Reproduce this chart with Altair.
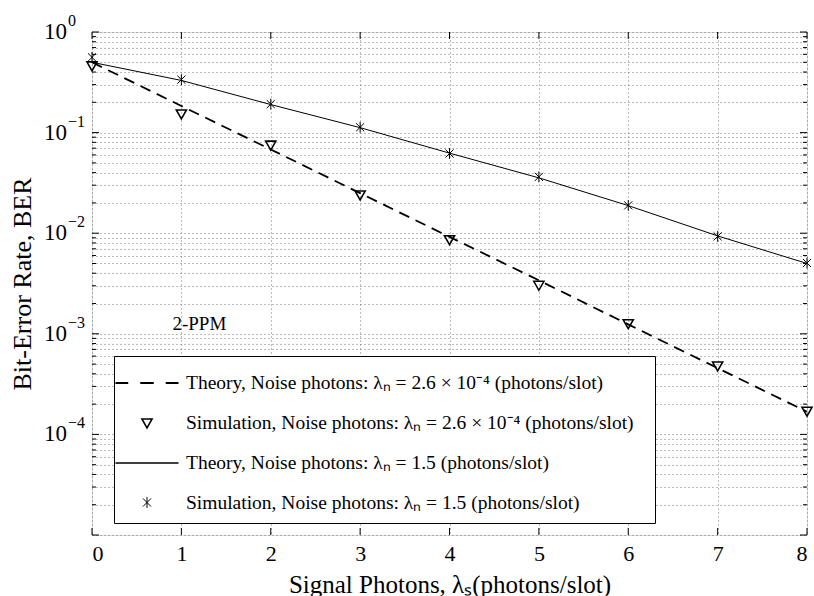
import altair as alt
import pandas as pd

# ---- data ----
signal = [0, 1, 2, 3, 4, 5, 6, 7, 8]
theory_low = [0.5, 0.184, 0.068, 0.025, 0.0092, 0.0034, 0.00124, 0.000456, 0.000168]
sim_low = [0.46, 0.153, 0.075, 0.024, 0.0086, 0.00303, 0.00126, 0.000478, 0.000170]
theory_high = [0.5, 0.33, 0.19, 0.112, 0.0625, 0.0355, 0.0188, 0.0094, 0.0050]
sim_high = [0.56, 0.336, 0.192, 0.113, 0.062, 0.0363, 0.0189, 0.0093, 0.00506]

labels = [
    "Theory, Noise photons:  λₙ = 2.6 × 10⁻⁴  (photons/slot)",
    "Simulation, Noise photons:  λₙ = 2.6 × 10⁻⁴  (photons/slot)",
    "Theory, Noise photons:  λₙ = 1.5 (photons/slot)",
    "Simulation, Noise photons:  λₙ = 1.5 (photons/slot)",
]

x_ticks = [0, 1, 2, 3, 4, 5, 6, 7, 8]
decades = [1, 0.1, 0.01, 0.001, 0.0001]
decade_exps = ["0", "−1", "−2", "−3", "−4"]
y_major = [1, 0.1, 0.01, 0.001, 0.0001, 0.00001]
y_minor = [m * 10.0 ** k for k in range(-5, 0) for m in range(2, 10)]

note_text = ["2-PPM"]
note_x = [0.9]
note_y = [1.25e-3]

# ---- styling ----
W, H = 715, 503
FONT = "Liberation Serif"
GRID = "#777777"

df_tl = pd.DataFrame({"x": signal, "ber": theory_low})
df_th = pd.DataFrame({"x": signal, "ber": theory_high})
df_sim = pd.DataFrame({
    "x": signal + signal,
    "ber": sim_low + sim_high,
    "series": [labels[1]] * len(signal) + [labels[3]] * len(signal),
})

xscale = alt.Scale(domain=[0, 8], nice=False, zero=False)
yscale = alt.Scale(type="log", domain=[1e-5, 1], nice=False)

x_axis = alt.Axis(
    values=x_ticks, grid=True, gridDash=[1, 3], gridColor=GRID, gridWidth=1,
    ticks=False, domain=False, labelFont=FONT, labelFontSize=22, labelColor="black",
    labelPadding=8, title="Signal Photons, λₛ(photons/slot)", titleFont=FONT,
    titleFontSize=25, titleFontWeight="normal", titleColor="black",
    titleY=49, titleBaseline="middle",
)
y_axis = alt.Axis(
    values=y_major + y_minor, grid=True, gridDash=[1, 3], gridColor=GRID, gridWidth=1,
    ticks=False, domain=False, labels=False, title="Bit-Error Rate, BER",
    titleFont=FONT, titleFontSize=26, titleFontWeight="normal", titleColor="black",
    titleX=-70, titleY=H / 2, titleAngle=-90, titleAlign="center", titleBaseline="middle",
)


def X(field):
    return alt.X(field, scale=xscale, axis=x_axis)


def Y(field):
    return alt.Y(field, scale=yscale, axis=y_axis)


line_low = alt.Chart(df_tl).mark_line(color="black", strokeWidth=1.8, strokeDash=[11, 7]).encode(
    x=X("x:Q"), y=Y("ber:Q"),
)
line_high = alt.Chart(df_th).mark_line(color="black", strokeWidth=1).encode(
    x=X("x:Q"), y=Y("ber:Q"),
)

dash_path = "M-2.1,0H-1.25M-0.45,0H0.45M1.25,0H2.1"
solid_path = "M-2.1,0H2.1"
tri_path = "M-0.34,-0.27L0.34,-0.27L0,0.33Z"
star_path = "M0,-0.36V0.36M-0.27,-0.27L0.27,0.27M-0.27,0.27L0.27,-0.27"

points = alt.Chart(df_sim).mark_point(filled=False, color="black", size=900, opacity=1).encode(
    x=X("x:Q"), y=Y("ber:Q"),
    shape=alt.Shape(
        "series:N",
        scale=alt.Scale(domain=labels, range=[dash_path, tri_path, solid_path, star_path]),
        legend=alt.Legend(
            title=None, orient="none", legendX=22, legendY=324, direction="vertical",
            fillColor="white", strokeColor="black", padding=11, rowPadding=14,
            symbolSize=900, symbolOffset=6, labelOffset=23, symbolStrokeColor="black",
            symbolFillColor="transparent", labelFont=FONT, labelFontSize=19.5,
            labelColor="black", labelLimit=0, labelBaseline="middle",
        ),
    ),
    strokeWidth=alt.StrokeWidth(
        "series:N",
        scale=alt.Scale(domain=labels, range=[1.8, 1, 1, 1]),
        legend=alt.Legend(title=None, orient="none", legendX=22, legendY=324),
    ),
)

# inner ticks (MATLAB style)
df_ymaj = pd.DataFrame({"ber": y_major})
df_ymin = pd.DataFrame({"ber": y_minor})
df_xt = pd.DataFrame({"x": x_ticks})


def yticks(df, x0, x1):
    return alt.Chart(df).mark_rule(color="black", strokeWidth=1).encode(
        y=Y("ber:Q"), x=alt.value(x0), x2=alt.value(x1)
    )


def xticks(y0, y1):
    return alt.Chart(df_xt).mark_rule(color="black", strokeWidth=1).encode(
        x=X("x:Q"), y=alt.value(y0), y2=alt.value(y1)
    )


ticks = [
    yticks(df_ymaj, 0, 7), yticks(df_ymaj, W - 7, W),
    yticks(df_ymin, 0, 4), yticks(df_ymin, W - 4, W),
    xticks(H, H - 7), xticks(0, 7),
]

df_dec = pd.DataFrame({"ber": decades, "e": decade_exps})
lab10 = alt.Chart(df_dec).mark_text(
    align="left", baseline="middle", font=FONT, fontSize=23, color="black"
).encode(y=Y("ber:Q"), x=alt.value(-48), text=alt.value("10"))
labexp = alt.Chart(df_dec).mark_text(
    align="left", baseline="middle", font=FONT, fontSize=16, color="black", dy=-11
).encode(y=Y("ber:Q"), x=alt.value(-24), text="e:N")

df_note = pd.DataFrame({"x": note_x, "ber": note_y, "t": note_text})
note = alt.Chart(df_note).mark_text(
    align="left", baseline="middle", font=FONT, fontSize=19, color="black"
).encode(x=X("x:Q"), y=Y("ber:Q"), text="t:N")

chart = alt.layer(line_low, line_high, *ticks, lab10, labexp, note, points).properties(
    width=W, height=H,
    autosize=alt.AutoSizeParams(type="none"),
    padding={"left": 92, "top": 32, "right": 7, "bottom": 61},
).configure_view(stroke="black", strokeWidth=1).configure(background="white")

chart.save("out.html", embed_options={"renderer": "svg", "actions": False})
